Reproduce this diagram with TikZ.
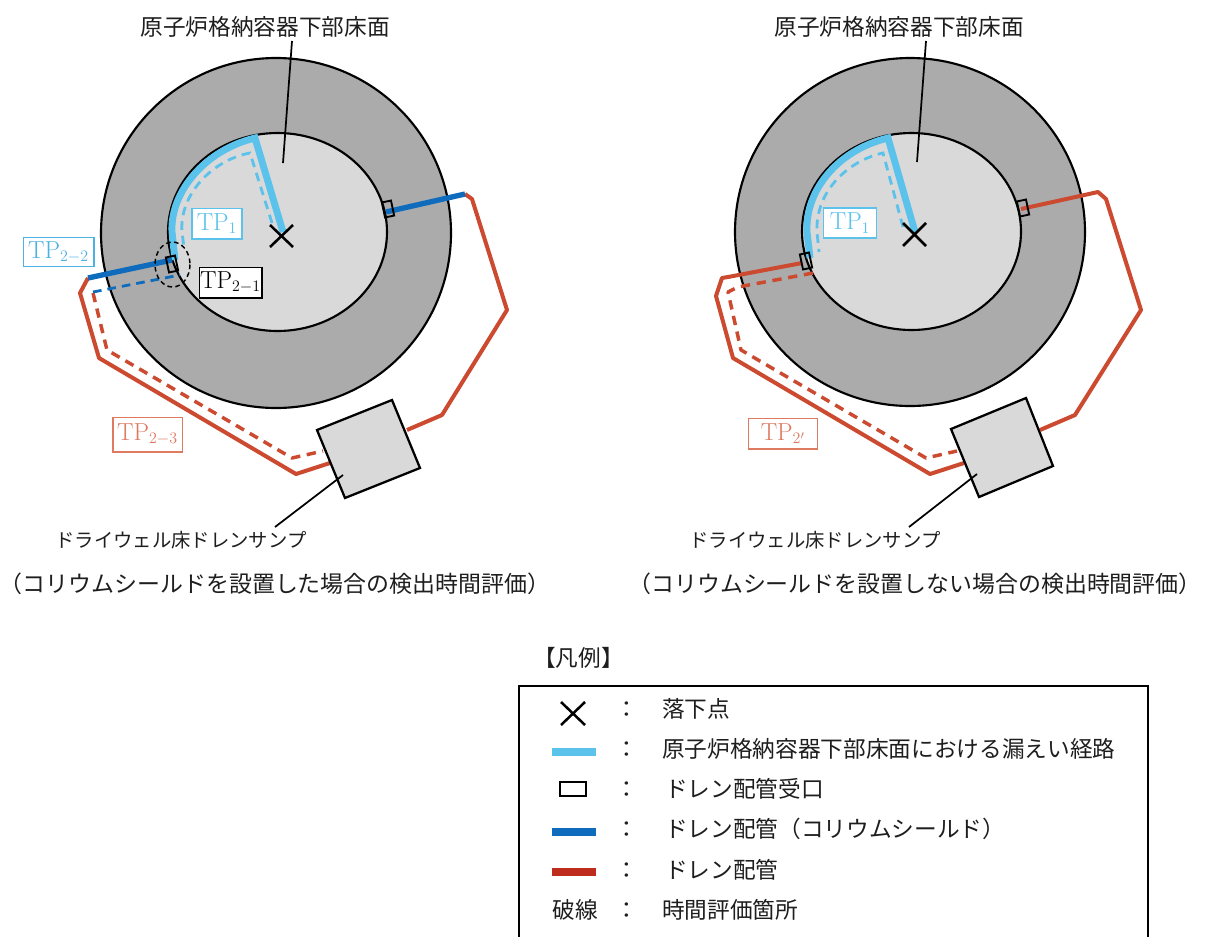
\documentclass[tikz,border=0pt]{standalone}
\usepackage{fontspec}
\newfontfamily\cjk{Noto Sans CJK JP}
\definecolor{cyanp}{HTML}{5BC2EC}
\definecolor{bluep}{HTML}{0F6CBD}
\definecolor{redp}{HTML}{CB4A30}
\definecolor{redl}{HTML}{BE2C1E}
\definecolor{lab}{HTML}{DD7A60}
\definecolor{outerg}{HTML}{ABABAB}
\definecolor{innerg}{HTML}{D9D9D9}
\definecolor{inkk}{HTML}{1E1E1E}
\tikzset{
 ring/.style={draw=black,line width=1.6pt,fill=outerg},
 core/.style={draw=black,line width=1.6pt,fill=innerg},
 sump/.style={draw=black,line width=1.7pt,fill=innerg,line join=miter},
 leader/.style={draw=black,line width=1.3pt},
 cyansolid/.style={draw=cyanp,line width=5.2pt,line join=miter},
 cyandash/.style={draw=cyanp,line width=2.1pt,dash pattern=on 6.5pt off 4.5pt},
 bluesolid/.style={draw=bluep,line width=4pt},
 bluedash/.style={draw=bluep,line width=2.1pt,dash pattern=on 6.5pt off 4.5pt},
 redsolid/.style={draw=redp,line width=3pt,line join=round},
 reddash/.style={draw=redp,line width=2.6pt,dash pattern=on 7pt off 5pt,line join=round},
 recv/.style={draw=black,line width=1.4pt,minimum width=7pt,minimum height=11.5pt,inner sep=0pt,rotate=12},
 cross/.style={draw=black,line width=1.9pt},
 zone/.style={draw=black,line width=1.1pt,dash pattern=on 3.5pt off 2.5pt},
 tag/.style={draw=#1,text=#1,fill=white,line width=1pt,inner sep=0pt,font=\fontsize{18.5}{18.5}\selectfont},
 jp/.style={font=\cjk\fontsize{17}{18}\selectfont,text=inkk,inner sep=0pt},
 jps/.style={font=\cjk\fontsize{14.5}{16}\selectfont,text=inkk,inner sep=0pt},
 bar/.style={line width=6pt},
}
\begin{document}
\begin{tikzpicture}[x=0.75pt,y=-0.75pt]
\useasboundingbox (0,0) rectangle (1205,936);
\fill[white] (0,0) rectangle (1205,936);
\clip (0,0) rectangle (1205,936);

% ---------- left diagram
\draw[ring] (276,233) ellipse [x radius=175,y radius=175];
\draw[core] (277.5,232) ellipse [x radius=109.5,y radius=99];
\node[jp] (titleL) at (265,27) {原子炉格納容器下部床面};
\coordinate (ltipL) at (283,163);
\draw[leader] (292,41) -- (ltipL);
\draw[cyansolid] (283,232) -- (255,138) .. controls (205,150) and (170,192) .. (172,232) -- (175,260);
\draw[cyandash] (272,223) -- (250,153) .. controls (212,160) and (179,195) .. (182,232) -- (184,248);
\draw[redsolid] (88,278) -- (80,293) -- (99,358) -- (296,474) -- (330,463);
\draw[redsolid] (407,430) -- (442,415) -- (507,310) -- (472,199) -- (465,194);
\draw[reddash] (93,293) -- (107,350) -- (292,458) -- (323,451);
\draw[bluesolid] (88,278) -- (172,260);
\draw[bluesolid] (386,212) -- (465,194);
\draw[bluedash] (93,292) -- (180,275);
\node[recv] (recvL1) at (172,264) {};
\node[recv] (recvL2) at (388,209) {};
\draw[zone] (172.5,264.5) ellipse [x radius=17.5,y radius=22.5];
\draw[cross] (270,225) -- (293,247) (270,247) -- (293,225);
\draw[sump] (317,430) -- (392,400) -- (420,468) -- (345,498) -- cycle;
\coordinate (stipL) at (343,475);
\node[jps] (sumpL) at (181,540) {ドライウェル床ドレンサンプ};
\draw[leader] (275,527) -- (stipL);
\node[tag=cyanp,minimum width=37.5pt,minimum height=23pt] (tp1L) at (217,223.5) {TP$_1$};
\node[tag=cyanp!80!bluep,minimum width=53pt,minimum height=22pt] (tp22) at (58.5,252) {TP$_{2-2}$};
\node[tag=black,minimum width=47pt,minimum height=23pt] (tp21) at (230.5,282.5) {TP$_{2-1}$};
\node[tag=lab,minimum width=52pt,minimum height=26pt] (tp23) at (147.5,434.5) {TP$_{2-3}$};
\node[jp,font=\cjk\fontsize{17.2}{18}\selectfont] (capL) at (275,584) {（コリウムシールドを設置した場合の検出時間評価）};

% ---------- right diagram
\draw[ring] (910,232) ellipse [x radius=175,y radius=174];
\draw[core] (911.5,231.5) ellipse [x radius=109.5,y radius=98.5];
\node[jp] (titleR) at (899,27) {原子炉格納容器下部床面};
\coordinate (ltipR) at (917,162);
\draw[leader] (926,41) -- (ltipR);
\draw[cyansolid] (915,232) -- (888,138) .. controls (838,150) and (805,190) .. (807,232) -- (810,258);
\draw[cyandash] (903,227) -- (883,153) .. controls (850,160) and (815,190) .. (817,232) -- (819,252);
\draw[redsolid] (802,263) -- (728,277) -- (722,278) -- (716,296) -- (733,358) -- (930,474) -- (964,463);
\draw[redsolid] (1040,430) -- (1075,415) -- (1141,310) -- (1106,199) -- (1098,192) -- (1021,209);
\draw[reddash] (813,273) -- (738,287) -- (728,292) -- (741,350) -- (926,458) -- (957,451);
\node[recv] (recvR1) at (806,261) {};
\node[recv] (recvR2) at (1023,208) {};
\draw[cross] (903,223) -- (926,246) (903,246) -- (926,223);
\draw[sump] (951,429) -- (1026,398) -- (1053,466) -- (979,497) -- cycle;
\coordinate (stipR) at (977,474);
\node[jps] (sumpR) at (815,540) {ドライウェル床ドレンサンプ};
\draw[leader] (909,527) -- (stipR);
\node[tag=cyanp,minimum width=40pt,minimum height=22.5pt] (tp1R) at (850,223) {TP$_1$};
\node[tag=lab,minimum width=52pt,minimum height=23pt] (tp2p) at (783,433.5) {TP$_{2'}$};
\node[jp,font=\cjk\fontsize{17.2}{18}\selectfont] (capR) at (915,584) {（コリウムシールドを設置しない場合の検出時間評価）};

% ---------- legend
\node[jps,font=\cjk\fontsize{17}{18}\selectfont,anchor=west] (legT) at (533,658) {【凡例】};
\draw[draw=black,line width=1.6pt] (519,686) rectangle (1148,960);
\draw[cross] (561,702) -- (585,725) (561,725) -- (585,702);
\draw[bar,cyanp] (552,752) -- (596,752);
\node[draw=black,line width=1.6pt,minimum width=19pt,minimum height=10pt,inner sep=0pt] (legR) at (573,789) {};
\draw[bar,bluep] (552,832) -- (596,832);
\draw[bar,redl] (552,872) -- (596,872);
\node[jp] (leg6s) at (575,910) {破線};
\foreach \n/\yy in {a/710,b/750,c/790,d/830,e/871,f/911}
  \node[jp] (col\n) at (627,\yy) {：};
\node[jp,anchor=west] (l1) at (662,709) {落下点};
\node[jp,anchor=west] (l2) at (662,749) {原子炉格納容器下部床面における漏えい経路};
\node[jp,anchor=west] (l3) at (665,789) {ドレン配管受口};
\node[jp,anchor=west] (l4) at (665,829) {ドレン配管（コリウムシールド）};
\node[jp,anchor=west] (l5) at (665,870) {ドレン配管};
\node[jp,anchor=west] (l6) at (662,910) {時間評価箇所};
\end{tikzpicture}
\end{document}
